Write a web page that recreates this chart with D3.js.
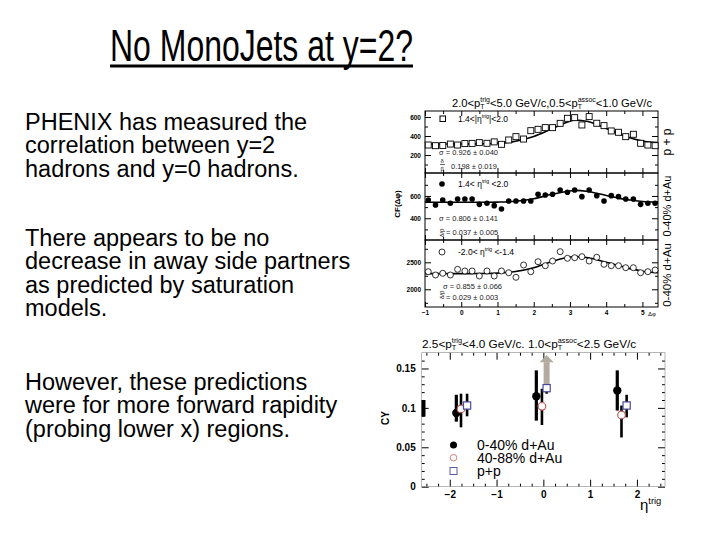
<!DOCTYPE html>
<html><head><meta charset="utf-8">
<script src="https://cdn.jsdelivr.net/npm/d3@7"></script>
<style>body{margin:0;background:#fff}text{font-family:"Liberation Sans",Arial,sans-serif}</style>
</head><body>
<svg id="s" width="720" height="540"></svg>
<script>
// ---------- slide text ----------
const titleText = "No MonoJets at y=2?";
const para1 = ["PHENIX has measured the", "correlation between y=2", "hadrons and y=0 hadrons."];
const para2 = ["There appears to be no", "decrease in away side partners", "as predicted by saturation", "models."];
const para3 = ["However, these predictions", "were for more forward rapidity", "(probing lower x) regions."];

// ---------- upper figure data (CF vs delta phi) ----------
const dphi = [-0.91,-0.71,-0.51,-0.30,-0.10,0.10,0.30,0.50,0.71,0.91,1.11,1.31,1.51,1.72,1.92,2.12,2.32,2.52,2.73,2.93,3.13,3.33,3.53,3.74,3.94,4.14,4.34,4.54,4.75,4.95,5.15,5.35];
const cfPP   = [305,298,300,315,305,320,322,330,323,338,312,358,393,368,456,470,488,488,533,586,593,516,604,534,509,453,439,393,418,323,305,298];
const cfDAuF = [564,519,564,535,573,573,573,525,535,513,483,555,555,555,555,615,609,615,654,633,654,594,654,603,555,603,594,573,573,525,535,535];
const cfDAuB = [2326,2265,2296,2265,2370,2339,2339,2246,2339,2246,2339,2307,2222,2450,2326,2511,2437,2524,2696,2574,2585,2604,2524,2593,2463,2437,2437,2400,2400,2307,2326,2357];
const fitX    = [-1,-0.5,0,0.5,1,1.5,2,2.5,3,3.14,3.5,4,4.5,5,5.43];
const fitPP   = [315,315,315,317,323,345,395,475,555,568,552,480,400,348,330];
const fitDAuF = [543,543,543,543,545,552,575,615,645,650,640,605,570,550,545];
const fitDAuB = [2290,2290,2290,2292,2300,2330,2400,2515,2598,2605,2585,2500,2410,2335,2305];
const dphiTicks = [-1,0,1,2,3,4,5];
const ticksP1 = [200,400,600];
const ticksP2 = [400,600];
const ticksP3 = [2000,2500];

// ---------- lower figure data (CY vs eta_trig) ----------
const legendNames = ["0-40% d+Au", "40-88% d+Au", "p+p"];
const etaC  = [-1.86,-0.15,1.58];
const cyC   = [0.0936,0.1148,0.122];
const cyCLo = [0.0825,0.0838,0.0966];
const cyCHi = [0.1166,0.1476,0.1476];
const etaP  = [-1.76,-0.03,1.67];
const cyP   = [0.0987,0.102,0.091];
const cyPLo = [0.0753,0.0783,0.0625];
const cyPHi = [0.118,0.1242,0.103];
const etaPP  = [-1.63,0.07,1.78];
const cyPP   = [0.103,0.125,0.103];
const cyPPLo = [0.0893,0.118,0.088];
const cyPPHi = [0.118,0.127,0.1166];
const normBar = [0.089,0.110];
const arrowCY = [0.128,0.167];
const etaTicks = [-2,-1,0,1,2];
const cyTicks = [0,0.05,0.1,0.15];

const svg = d3.select("#s");
svg.append("rect").attr("width",720).attr("height",540).attr("fill","#fff");

// ---------- title ----------
svg.append("text").attr("x",110).attr("y",61).attr("font-size",44)
  .attr("textLength",303).attr("lengthAdjust","spacingAndGlyphs").text(titleText);
svg.append("rect").attr("x",110).attr("y",64.5).attr("width",303).attr("height",3).attr("fill","#000");

// ---------- body text ----------
function para(lines, y0){
  lines.forEach((l,i)=> svg.append("text").attr("x",25).attr("y",y0+i*23.3).attr("font-size",23.5).text(l));
}
para(para1,130); para(para2,246); para(para3,390);

// rich text helper (sub/superscripts)
function rich(t, parts, fs){
  let base = 0, pend = 0;
  parts.forEach(p=>{
    if (typeof p === "string"){
      t.append("tspan").attr("dx",pend).attr("dy",-base).text(p); base=0; pend=0;
    } else {
      const sf = fs*0.62;
      let ws=0, wb=0;
      if (p.sup){
        const s = t.append("tspan").attr("dx",pend).attr("dy",-fs*0.42-base).attr("font-size",sf).text(p.sup);
        base = -fs*0.42; pend=0; ws = s.node().getComputedTextLength();
      }
      if (p.sub){
        const b = t.append("tspan").attr("dx",pend-ws).attr("dy",fs*0.2-base).attr("font-size",sf).text(p.sub);
        base = fs*0.2; pend=0; wb = b.node().getComputedTextLength();
        pend = Math.max(0, ws-wb);
      }
    }
  });
  return t;
}

// ---------- upper figure ----------
const U = svg.append("g");
const ux = d3.scaleLinear().domain([-1,5.43]).range([425,658]);
const panels = [
  {y:d3.scaleLinear().domain([10.5,663]).range([173,111]), v:cfPP, f:fitPP, ticks:ticksP1, minor:[100,300,500], type:"sq"},
  {y:d3.scaleLinear().domain([205,806]).range([240,173]), v:cfDAuF, f:fitDAuF, ticks:ticksP2, minor:[300,500,700], type:"fc"},
  {y:d3.scaleLinear().domain([1672,2913]).range([307,240]), v:cfDAuB, f:fitDAuB, ticks:ticksP3, minor:[1750,2250,2750], type:"oc"}
];
const minorX = [-0.5,0.5,1.5,2.5,3.5,4.5];
panels.forEach((p,i)=>{
  const [yb,yt] = p.y.range();
  const g = U.append("g");
  const ax = (axis,tr)=> g.append("g").attr("transform",tr).call(axis).call(s=>s.select(".domain").remove())
      .call(s=>s.selectAll("line").attr("stroke","#000")).call(s=>s.selectAll("text").attr("font-size",6.5).attr("font-weight","bold").attr("font-family","Liberation Sans, Arial"));
  ax(d3.axisLeft(p.y).tickValues(p.ticks).tickSize(-6).tickPadding(4).tickFormat(d3.format("d")), "translate(425,0)");
  ax(d3.axisLeft(p.y).tickValues(p.minor).tickSize(-3).tickFormat(""), "translate(425,0)");
  ax(d3.axisRight(p.y).tickValues(p.ticks).tickSize(-6).tickFormat(""), "translate(658,0)");
  ax(d3.axisRight(p.y).tickValues(p.minor).tickSize(-3).tickFormat(""), "translate(658,0)");
  ax(d3.axisTop(ux).tickValues(dphiTicks).tickSize(-5).tickFormat(""), `translate(0,${yt})`);
  ax(d3.axisTop(ux).tickValues(minorX).tickSize(-3).tickFormat(""), `translate(0,${yt})`);
  ax(d3.axisBottom(ux).tickValues(dphiTicks).tickSize(-5).tickPadding(3).tickFormat(i===2?d3.format("d"):""), `translate(0,${yb})`);
  ax(d3.axisBottom(ux).tickValues(minorX).tickSize(-3).tickFormat(""), `translate(0,${yb})`);
  g.append("rect").attr("x",425).attr("y",yt).attr("width",233).attr("height",yb-yt).attr("fill","none").attr("stroke","#000").attr("stroke-width",1);
  // fit curve
  g.append("path").datum(fitX.map((x,k)=>[x,p.f[k]]))
    .attr("d", d3.line().x(d=>ux(d[0])).y(d=>p.y(d[1])).curve(d3.curveMonotoneX))
    .attr("fill","none").attr("stroke","#000").attr("stroke-width",1.6);
  // points
  const pts = dphi.map((x,k)=>[x,p.v[k]]);
  if (p.type==="sq"){
    g.selectAll(null).data(pts).enter().append("rect").attr("x",d=>ux(d[0])-3).attr("y",d=>p.y(d[1])-3)
      .attr("width",6).attr("height",6).attr("fill","#fff").attr("stroke","#000").attr("stroke-width",0.9);
  } else if (p.type==="fc"){
    g.selectAll(null).data(pts).enter().append("circle").attr("cx",d=>ux(d[0])).attr("cy",d=>p.y(d[1])).attr("r",2.8).attr("fill","#000");
  } else {
    g.selectAll(null).data(pts).enter().append("circle").attr("cx",d=>ux(d[0])).attr("cy",d=>p.y(d[1])).attr("r",3).attr("fill","#fff").attr("stroke","#000").attr("stroke-width",0.8);
  }
});
// upper title
rich(U.append("text").attr("x",452).attr("y",107).attr("font-size",11.2),
  ["2.0<p",{sub:"T",sup:"trig"},"<5.0 GeV/c,0.5<p",{sub:"T",sup:"assoc"},"<1.0 GeV/c"],11.2);
// panel legends
U.append("rect").attr("x",440).attr("y",116).attr("width",5.5).attr("height",5.5).attr("fill","#fff").attr("stroke","#000");
rich(U.append("text").attr("x",458).attr("y",122).attr("font-size",8.5),["1.4<|η",{sup:"trig"},"|<2.0"],8.5);
U.append("circle").attr("cx",442).attr("cy",184).attr("r",2.8).attr("fill","#000");
rich(U.append("text").attr("x",458).attr("y",187).attr("font-size",8.5),["1.4< η",{sup:"trig"}," <2.0"],8.5);
U.append("circle").attr("cx",442).attr("cy",252).attr("r",3).attr("fill","#fff").attr("stroke","#000").attr("stroke-width",0.8);
rich(U.append("text").attr("x",458).attr("y",255).attr("font-size",8.5),["-2.0< η",{sup:"trig"}," <-1.4"],8.5);
// fit parameters
const fp = (x,y,t,fs)=>U.append("text").attr("x",x).attr("y",y).attr("font-size",fs||7.5).attr("fill","#222").text(t);
fp(439,154.5,"σ = 0.926 ± 0.040");
fp(440.5,162.5,"δ",6); U.append("line").attr("x1",440).attr("x2",445).attr("y1",164.5).attr("y2",164.5).attr("stroke","#000").attr("stroke-width",0.6); fp(440.5,170.5,"β",6);
fp(451,169,"0.198 ± 0.019");
fp(439,221,"σ = 0.806 ± 0.141");
U.append("text").attr("transform","translate(444,237) rotate(-90)").attr("font-size",6).text("δ/β");
fp(446,235,"= 0.037 ± 0.005");
U.append("text").attr("transform","translate(444,299) rotate(-90)").attr("font-size",6).text("δ/β");
fp(443,289,"σ = 0.855 ± 0.066");
fp(446,300,"= 0.029 ± 0.003");
// axis titles
U.append("text").attr("transform","translate(400,204) rotate(-90)").attr("text-anchor","middle").attr("font-size",8).attr("font-weight","bold").text("CF(Δφ)");
U.append("text").attr("x",648).attr("y",316).attr("font-size",6).text("Δφ");
const rl = (y,t,fs)=>U.append("text").attr("transform",`translate(671,${y}) rotate(-90)`).attr("text-anchor","middle").attr("font-size",fs).text(t);
rl(142,"p + p",12); rl(206,"0-40% d+Au",11); rl(275,"0-40% d+Au",11.5);

// ---------- lower figure ----------
const L = svg.append("g");
const lx = d3.scaleLinear().domain([-2.6,2.6]).range([421.7,665]);
const ly = d3.scaleLinear().domain([0,0.17]).range([486.7,352.7]);
const axL = (axis,tr,fs)=> L.append("g").attr("transform",tr).call(axis).call(s=>s.select(".domain").remove())
   .call(s=>s.selectAll("line").attr("stroke","#000")).call(s=>s.selectAll("text").attr("font-size",fs||10).attr("font-weight","bold").attr("font-family","Liberation Sans, Arial"));
axL(d3.axisLeft(ly).tickValues(cyTicks).tickSize(-7).tickPadding(6).tickFormat(d=>d===0?"0":d3.format("")(+d.toFixed(2))),"translate(421.7,0)");
axL(d3.axisRight(ly).tickValues(cyTicks).tickSize(-7).tickFormat(""),"translate(665,0)");
axL(d3.axisRight(ly).tickValues([0.01,0.02,0.03,0.04,0.06,0.07,0.08,0.09,0.11,0.12,0.13,0.14,0.16]).tickSize(-3).tickFormat(""),"translate(665,0)");
axL(d3.axisLeft(ly).tickValues([0.01,0.02,0.03,0.04,0.06,0.07,0.08,0.09,0.11,0.12,0.13,0.14,0.16]).tickSize(-3).tickFormat(""),"translate(421.7,0)");
axL(d3.axisBottom(lx).tickValues(etaTicks).tickSize(-7).tickPadding(4).tickFormat(d3.format("d")),"translate(0,486.7)");
axL(d3.axisTop(lx).tickValues(etaTicks).tickSize(-7).tickFormat(""),"translate(0,352.7)");
const mx = [-2.5,-2.25,-1.75,-1.5,-1.25,-0.75,-0.5,-0.25,0.25,0.5,0.75,1.25,1.5,1.75,2.25,2.5];
axL(d3.axisBottom(lx).tickValues(mx).tickSize(-3).tickFormat(""),"translate(0,486.7)");
axL(d3.axisTop(lx).tickValues(mx).tickSize(-3).tickFormat(""),"translate(0,352.7)");
L.append("rect").attr("x",421.7).attr("y",352.7).attr("width",243.3).attr("height",134).attr("fill","none").attr("stroke","#888").attr("stroke-width",0.6);
// normalization bar
L.append("line").attr("x1",423.5).attr("x2",423.5).attr("y1",ly(normBar[0])).attr("y2",ly(normBar[1])).attr("stroke","#000").attr("stroke-width",4);
// arrow
const ax0 = lx(etaPP[1]);
L.append("rect").attr("x",ax0-3).attr("y",ly(0.158)).attr("width",6).attr("height",ly(arrowCY[0])-ly(0.158)).attr("fill","#b3ab9f");
L.append("path").attr("d",`M${ax0-7},${ly(0.158)}L${ax0+7},${ly(0.158)}L${ax0},${ly(arrowCY[1])}Z`).attr("fill","#b3ab9f");
// error bars
function ebars(eta,lo,hi,w){
  L.selectAll(null).data(eta).enter().append("line").attr("x1",d=>lx(d)).attr("x2",d=>lx(d))
   .attr("y1",(d,i)=>ly(lo[i])).attr("y2",(d,i)=>ly(hi[i])).attr("stroke","#000").attr("stroke-width",w);
}
ebars(etaC,cyCLo,cyCHi,3.2); ebars(etaP,cyPLo,cyPHi,2.6); ebars(etaPP,cyPPLo,cyPPHi,2.6);
// markers
L.selectAll(null).data(etaC).enter().append("circle").attr("cx",d=>lx(d)).attr("cy",(d,i)=>ly(cyC[i])).attr("r",4.2).attr("fill","#000");
L.selectAll(null).data(etaP).enter().append("circle").attr("cx",d=>lx(d)).attr("cy",(d,i)=>ly(cyP[i])).attr("r",3.8).attr("fill","#fff").attr("stroke","#c45a5a").attr("stroke-width",1.2);
L.selectAll(null).data(etaPP).enter().append("rect").attr("x",d=>lx(d)-3.6).attr("y",(d,i)=>ly(cyPP[i])-3.6).attr("width",7.2).attr("height",7.2).attr("fill","#fff").attr("stroke","#4a4a9c").attr("stroke-width",1.2);
// legend
const lgY = [445,457.7,471];
L.append("circle").attr("cx",453.5).attr("cy",lgY[0]).attr("r",3.5).attr("fill","#000");
L.append("circle").attr("cx",453.5).attr("cy",lgY[1]).attr("r",3.3).attr("fill","#fff").attr("stroke","#d08080").attr("stroke-width",1);
L.append("rect").attr("x",450).attr("y",lgY[2]-3.5).attr("width",7).attr("height",7).attr("fill","#fff").attr("stroke","#5a5aa8").attr("stroke-width",1);
legendNames.forEach((n,i)=>L.append("text").attr("x",477).attr("y",lgY[i]+4.8).attr("font-size",14).text(n));
// titles
rich(L.append("text").attr("x",422).attr("y",348).attr("font-size",11.8),
  ["2.5<p",{sub:"T",sup:"trig"},"<4.0 GeV/c. 1.0<p",{sub:"T",sup:"assoc"},"<2.5 GeV/c"],11.8);
L.append("text").attr("transform","translate(389,418) rotate(-90)").attr("text-anchor","middle").attr("font-size",10).attr("font-weight","bold").text("CY");
rich(L.append("text").attr("x",640).attr("y",510).attr("font-size",15),["η",{sup:"trig"}],15);
</script>
</body></html>
